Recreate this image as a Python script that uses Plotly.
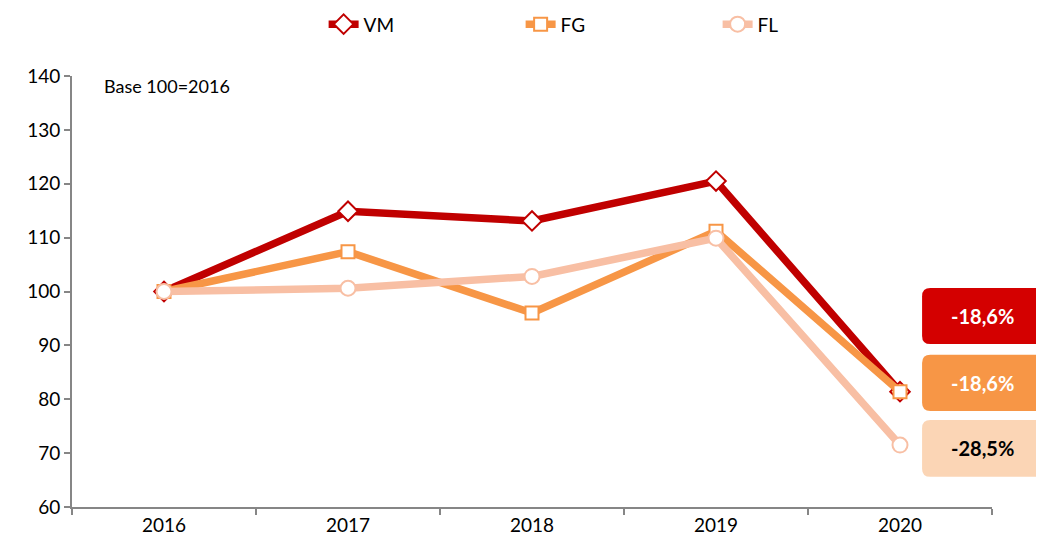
import plotly.graph_objects as go

years = ["2016", "2017", "2018", "2019", "2020"]
vm = [100.0, 114.9, 113.1, 120.5, 81.4]
fg = [100.0, 107.4, 96.0, 111.2, 81.4]
fl = [100.0, 100.6, 102.8, 109.9, 71.5]
changes = ["-18,6%", "-18,6%", "-28,5%"]
y_ticks = [60, 70, 80, 90, 100, 110, 120, 130, 140]

FONT = "Lato"
c_vm, c_fg, c_fl = "#C00000", "#F79646", "#F8BFA4"
box_cols = ["#D40000", "#F79646", "#FBD5B5"]
txt_cols = ["white", "white", "black"]

fig = go.Figure()
for name, vals, col, sym, sz in [
    ("VM", vm, c_vm, "diamond", 15),
    ("FG", fg, c_fg, "square", 13),
    ("FL", fl, c_fl, "circle", 15),
]:
    fig.add_trace(go.Scatter(
        x=years, y=vals, name=name, mode="lines+markers",
        line=dict(color=col, width=7.5),
        marker=dict(symbol=sym, size=sz, color="white", line=dict(color=col, width=2)),
    ))

# boxes on the right: rounded on the left, cut off by the page edge on the right
def lrect(x0, y0, x1, y1, rx=0.009, ry=0.019):
    return (f"M {x0+rx},{y0} L {x1},{y0} L {x1},{y1} L {x0+rx},{y1} "
            f"Q {x0},{y1} {x0},{y1-ry} L {x0},{y0+ry} Q {x0},{y0} {x0+rx},{y0} Z")

boxes = [(0.378, 0.508), (0.223, 0.353), (0.070, 0.202)]
for (b0, b1), bc, tc, t in zip(boxes, box_cols, txt_cols, changes):
    fig.add_shape(type="path", xref="paper", yref="paper",
                  path=lrect(0.924, b0, 1.06, b1), fillcolor=bc, line=dict(width=0))
    fig.add_annotation(xref="paper", yref="paper", x=0.990, y=(b0 + b1) / 2,
                       xanchor="center", yanchor="middle",
                       text=f"<b>{t}</b>", showarrow=False,
                       font=dict(family=FONT, size=20, color=tc))

fig.add_annotation(xref="paper", yref="paper", x=0.033, y=0.977, xanchor="left",
                   yanchor="middle", text="Base 100=2016", showarrow=False,
                   font=dict(family=FONT, size=18, color="black"))

fig.update_layout(
    width=1044, height=547,
    margin=dict(l=64, r=60, t=68, b=48, autoexpand=False),
    paper_bgcolor="white", plot_bgcolor="white",
    font=dict(family=FONT, size=19, color="black"),
    showlegend=True,
    legend=dict(orientation="h", x=0.2735, xanchor="left", y=1.12, yanchor="middle",
                entrywidth=152, font=dict(size=19)),
    xaxis=dict(type="category", range=[-0.5, 4.5], showline=True, linecolor="#868686",
               linewidth=2, ticks="outside", tickson="boundaries", ticklen=6,
               tickcolor="#868686", tickwidth=2, showgrid=False, zeroline=False,
               automargin=False),
    yaxis=dict(range=[60, 140], tickvals=y_ticks, showline=True, linecolor="#868686",
               linewidth=2, ticks="outside", ticklen=6, tickcolor="#868686", tickwidth=2,
               showgrid=False, zeroline=False, automargin=False),
)

fig.write_html("out.html")
